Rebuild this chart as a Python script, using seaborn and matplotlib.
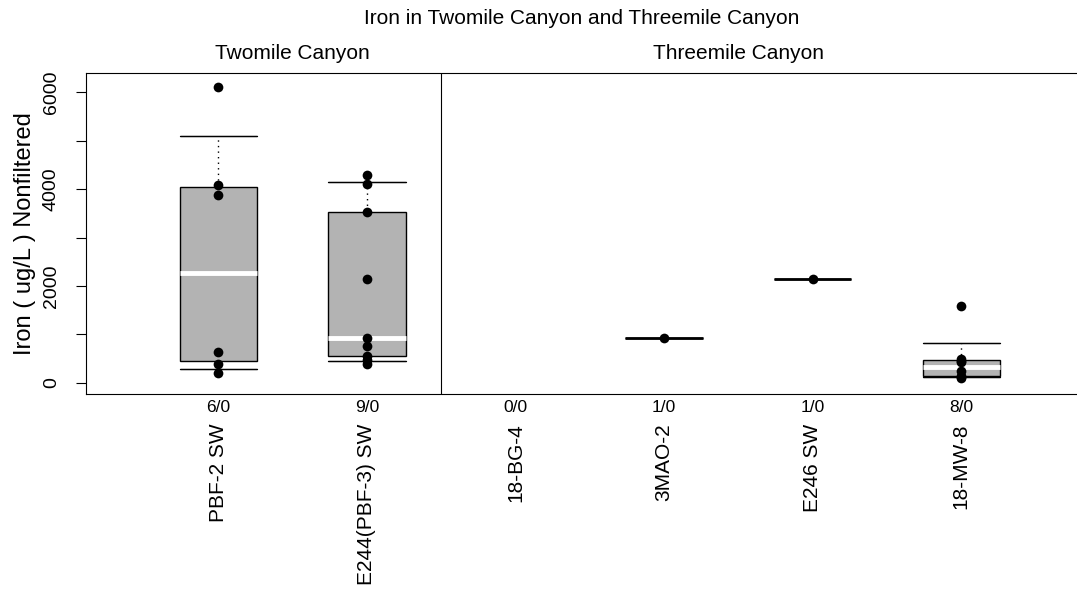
import numpy as np
import pandas as pd
import matplotlib
matplotlib.use("Agg")
import matplotlib.pyplot as plt
import matplotlib.transforms as mtransforms
import seaborn as sns


# =============================================
# data
# =============================================
sites    = ["PBF-2 SW", "E244(PBF-3) SW", "18-BG-4", "3MAO-2", "E246 SW", "18-MW-8"]
canyons  = ["Twomile Canyon", "Threemile Canyon"]
n_sites  = [2, 4]          # sites per canyon, left to right
censored = [0, 0, 0, 0, 0, 0]

pbf2_sw  = [195, 380, 640, 3880, 4090, 6120]
e244_sw  = [386, 479, 552, 764, 917, 2152, 3538, 4104, 4297]
bg4      = []
mao2     = [925]
e246_sw  = [2140]
mw8      = [100, 120, 140, 240, 420, 450, 500, 1590]

values = [pbf2_sw, e244_sw, bg4, mao2, e246_sw, mw8]

rows = [(s, v) for s, vals in zip(sites, values) for v in vals]
df = pd.DataFrame(rows, columns=["site", "iron"])
counts = df.groupby("site").size().reindex(sites, fill_value=0)
df_box = df[df["site"].map(counts) > 1]
df_one = df[df["site"].map(counts) == 1]

BOX_W = 0.52

# =============================================
# plot
# =============================================
sns.set_style("white")
plt.rcParams["font.family"] = ["Liberation Sans", "DejaVu Sans"]
plt.rcParams.update({"text.color": "black", "axes.labelcolor": "black",
                     "xtick.color": "black", "ytick.color": "black"})

fig, ax = plt.subplots(figsize=(10.77, 5.94), dpi=100)
fig.subplots_adjust(left=0.080, right=1.0, top=0.877, bottom=0.336)

# whiskers: 10th-90th percentile, dotted, caps solid
sns.pointplot(data=df_box, x="site", y="iron", order=sites,
              errorbar=("pi", 80), linestyle="none", marker="",
              err_kws=dict(color="black", linewidth=1, linestyle=(0, (1, 3)), zorder=0.5),
              ax=ax)
for q in (10, 90):
    sns.pointplot(data=df_box, x="site", y="iron", order=sites,
                  errorbar=lambda v, q=q: (np.percentile(v, q),) * 2,
                  capsize=BOX_W, linestyle="none", marker="",
                  err_kws=dict(color="black", linewidth=0.9, zorder=0.6),
                  ax=ax)

box_kw = dict(x="site", y="iron", order=sites, width=BOX_W, whis=0,
              showfliers=False, showcaps=False, color="#B3B3B3",
              linecolor="black", linewidth=1, saturation=1, ax=ax)
sns.boxplot(data=df_box, medianprops=dict(color="white", linewidth=3.5), **box_kw)
sns.boxplot(data=df_one, medianprops=dict(color="black", linewidth=2), **box_kw)

sns.stripplot(data=df, x="site", y="iron", order=sites, jitter=False,
              color="black", size=7, linewidth=0, ax=ax, zorder=5)

ax.set_xlim(-0.89, 5.78)
ax.set_ylim(-240, 6400)

ax.set_yticks(np.arange(0, 6001, 1000))
ax.set_yticklabels([f"{t}" if t % 2000 == 0 else "" for t in range(0, 6001, 1000)])
ax.tick_params(axis="y", left=True, length=7, width=0.8, labelsize=14,
               labelrotation=90, pad=12, color="black")
for lab in ax.get_yticklabels():
    lab.set_va("center")

ax.set_xticks(range(len(sites)))
ax.set_xticklabels(sites, rotation=90, fontsize=15, va="top")
ax.tick_params(axis="x", length=0, pad=21)

ax.set_xlabel("")
ax.set_ylabel("Iron ( ug/L ) Nonfiltered", fontsize=17, labelpad=5)

for side in ["left", "bottom", "top"]:
    ax.spines[side].set_visible(True)
    ax.spines[side].set_color("black")
    ax.spines[side].set_linewidth(0.8)
ax.spines["right"].set_visible(False)

# canyon divider and labels
edges = np.cumsum(n_sites)
for e in edges[:-1]:
    ax.axvline(e - 0.5, color="black", linewidth=0.8)

trans = mtransforms.blended_transform_factory(ax.transData, ax.transAxes)
start = 0
for name, n in zip(canyons, n_sites):
    ax.text(start + (n - 1) / 2, 1.03, name, transform=trans,
            ha="center", va="bottom", fontsize=15)
    start += n

# sample counts under the axis
for i, s in enumerate(sites):
    ax.text(i, -0.04, f"{counts[s]}/{censored[i]}", transform=trans,
            ha="center", va="center", fontsize=12.5)

fig.suptitle("Iron in Twomile Canyon and Threemile Canyon", x=0.540, y=0.985,
             fontsize=15, va="top")

fig.savefig("out.png", dpi=100)
